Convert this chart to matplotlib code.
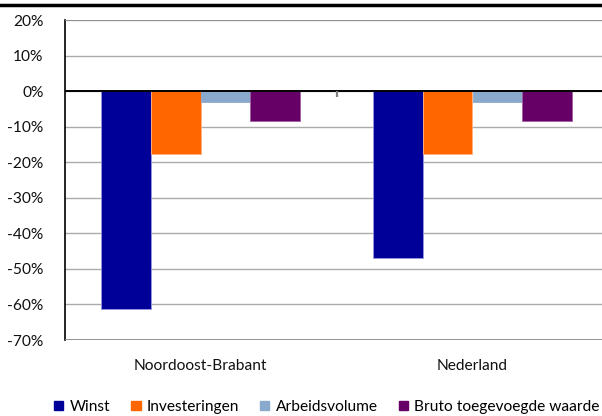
import matplotlib
matplotlib.use("Agg")
import matplotlib.pyplot as plt
import numpy as np
from matplotlib.patches import Patch
from matplotlib.lines import Line2D

categories = ["Noordoost-Brabant", "Nederland"]
series_names = ["Winst", "Investeringen", "Arbeidsvolume", "Bruto toegevoegde waarde"]
winst = [-61.4, -46.8]
investeringen = [-17.6, -17.6]
arbeidsvolume = [-3.1, -3.1]
bruto = [-8.4, -8.3]
yticks = [20, 10, 0, -10, -20, -30, -40, -50, -60, -70]

colors = ["#000099", "#FF6600", "#8AAACD", "#660066"]
edges = ["#9999DD", "#FFB080", "#8AAACD", "#A060A0"]

plt.rcParams['font.family'] = ['Lato', 'DejaVu Sans']

W, H = 602, 416
fig = plt.figure(figsize=(W / 100, H / 100), dpi=100)
ax = fig.add_axes([64.5 / W, 1 - 340 / H, (608.5 - 64.5) / W, 320 / H])

x = np.arange(len(categories))
bw = 0.182
all_series = [winst, investeringen, arbeidsvolume, bruto]
for i, (vals, c, e) in enumerate(zip(all_series, colors, edges)):
    ax.bar(x + (i - 1.5) * bw, vals, width=bw, color=c, edgecolor=e,
           linewidth=0.6, zorder=3)

ax.set_xlim(-0.5, 1.5)
ax.set_ylim(-70, 20)
ax.set_yticks(yticks)
ax.set_yticklabels([f"{v}%" for v in yticks], fontsize=11.2, color="#111111")
ax.tick_params(axis='y', length=0, pad=15)
ax.set_xticks([])
for yv in yticks:
    ax.axhline(yv, color="#ABABAB", lw=1.0, zorder=1)
ax.axhline(0, color="black", lw=1.4, zorder=4)
ax.axhline(-70, color="#8C8C8C", lw=2.0, zorder=4)
ax.axhline(20, color="#8C8C8C", lw=1.2, zorder=4)
# category separator tick on the category axis
ax.vlines([0.5], -1.6, 0, color="#808080", lw=1.6, zorder=4)

for s in ["top", "right", "bottom"]:
    ax.spines[s].set_visible(False)
ax.spines["left"].set_color("black")
ax.spines["left"].set_linewidth(1.2)

for xi, cat in zip(x, categories):
    ax.text(xi, -77.3, cat, ha="center", va="center", fontsize=11.2, color="#111111")

handles = [Patch(facecolor=c, edgecolor=c) for c in colors]
fig.legend(handles, series_names, loc="center left", bbox_to_anchor=(54 / W, 1 - 407 / H),
           ncol=4, frameon=False, fontsize=11.2, handlelength=0.6, handleheight=0.6,
           handletextpad=0.4, columnspacing=1.35, borderpad=0, borderaxespad=0)

fig.add_artist(Line2D([0, 1], [1 - 4.5 / H, 1 - 4.5 / H], transform=fig.transFigure,
                      color="black", lw=2.5))

fig.savefig("out.png", dpi=100)
